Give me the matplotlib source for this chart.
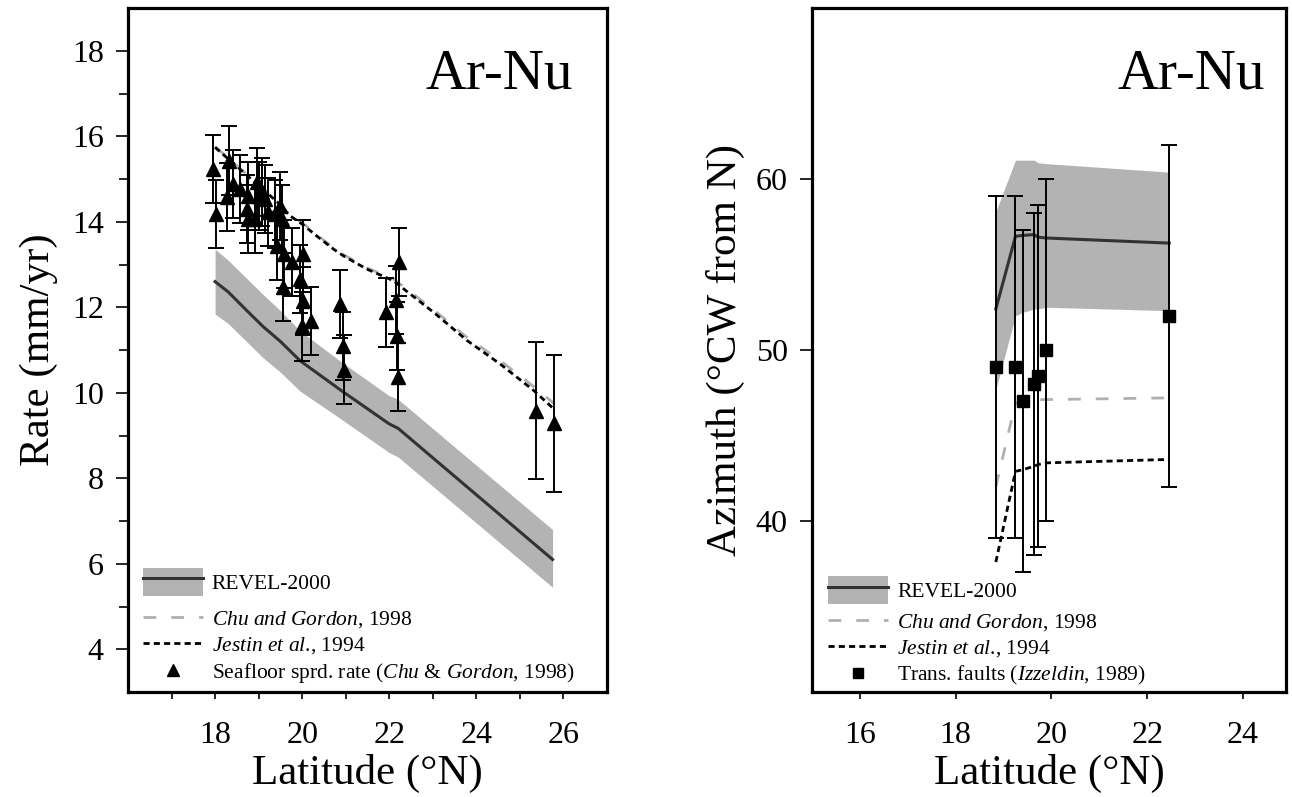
import matplotlib
matplotlib.use('Agg')
import matplotlib.pyplot as plt
from matplotlib.patches import Patch
from matplotlib.lines import Line2D
from matplotlib.legend_handler import HandlerTuple

plt.rcParams['font.family'] = ['Liberation Serif', 'DejaVu Serif']
plt.rcParams['mathtext.fontset'] = 'custom'
plt.rcParams['mathtext.rm'] = 'Liberation Serif'
plt.rcParams['mathtext.it'] = 'Liberation Serif:italic'

# ---------------- Left panel data (rate) ----------------
revel_lat = [18.0, 18.3, 18.7, 19.1, 19.5, 19.95, 20.9, 22.0, 22.2, 25.75]
revel_rate = [12.6, 12.36, 11.95, 11.55, 11.2, 10.75, 10.05, 9.27, 9.17, 6.1]
revel_rate_hi = [13.36, 13.1, 12.7, 12.3, 11.92, 11.45, 10.72, 9.93, 9.85, 6.8]
revel_rate_lo = [11.84, 11.62, 11.22, 10.82, 10.48, 10.04, 9.38, 8.6, 8.5, 5.45]

model_lat = [18.0, 19.42, 19.72, 20.02, 20.33, 20.72, 20.95, 21.49, 22.1, 22.33,
             23.02, 23.79, 24.55, 25.32, 25.78]
jestin_rate = [15.74, 14.47, 14.14, 13.93, 13.67, 13.36, 13.2, 12.89, 12.62, 12.43,
               11.88, 11.22, 10.67, 10.05, 9.62]
chu_rate = [15.76, 14.49, 14.17, 13.96, 13.7, 13.39, 13.23, 12.92, 12.66, 12.48,
            11.94, 11.29, 10.75, 10.14, 9.75]

sf_lat = [17.95, 18.02, 18.32, 18.27, 18.42, 18.57, 18.76, 18.73, 18.76, 18.96,
          19.00, 18.92, 19.07, 19.15, 19.22, 19.38, 19.50, 19.53, 19.42, 19.59,
          19.76, 20.01, 19.95, 19.57, 20.01, 19.99, 20.20, 20.87, 20.93, 20.96,
          21.93, 22.22, 22.15, 22.17, 22.19, 25.36, 25.78]
sf_rate = [15.24, 14.18, 15.43, 14.58, 14.88, 14.77, 14.60, 14.30, 14.07, 14.93,
           14.60, 14.07, 14.70, 14.53, 14.23, 14.18, 14.37, 14.07, 13.43, 13.25,
           13.06, 13.25, 12.66, 12.47, 12.14, 11.55, 11.68, 12.07, 11.10, 10.54,
           11.88, 13.06, 12.17, 11.33, 10.37, 9.58, 9.29]
sf_err = [0.8] * 35 + [1.6, 1.6]

# ---------------- Right panel data (azimuth) ----------------
az_lat = [18.84, 19.25, 19.40, 19.64, 19.72, 19.89, 22.46]
revel_az = [52.4, 56.65, 56.7, 56.75, 56.6, 56.55, 56.25]
revel_az_hi = [58.1, 61.1, 61.1, 61.1, 60.95, 60.9, 60.4]
revel_az_lo = [47.7, 52.0, 52.2, 52.4, 52.4, 52.5, 52.3]
chu_az = [42.0, 46.9, 47.0, 47.1, 47.1, 47.1, 47.2]
jestin_az = [37.6, 42.9, 43.0, 43.2, 43.3, 43.4, 43.6]

tf_lat = [18.84, 19.24, 19.40, 19.64, 19.72, 19.89, 22.46]
tf_az = [49.0, 49.0, 47.0, 48.0, 48.5, 50.0, 52.0]
tf_err = [10, 10, 10, 10, 10, 10, 10]

# ---------------- styles ----------------
BAND = '#b3b3b3'
REVEL_C = '#333333'
CHU_C = '#b0b0b0'
chu_ls = (0, (4.6, 5.4))
jes_ls = (0, (2.2, 1.5))
LEG_FS = 15.5

fig = plt.figure(figsize=(12.92, 7.97), dpi=100)
ax1 = fig.add_axes([128 / 1292, 105 / 797, 479 / 1292, 684 / 797])
ax2 = fig.add_axes([812 / 1292, 105 / 797, 474 / 1292, 684 / 797])


def style_axes(ax):
    for s in ax.spines.values():
        s.set_linewidth(2.3)
    ax.tick_params(which='both', direction='out', top=False, right=False,
                   labelsize=23, width=1.2)
    ax.tick_params(axis='x', which='both', length=5, pad=16)
    ax.tick_params(axis='y', which='major', length=8.5, pad=9)
    ax.tick_params(axis='y', which='minor', length=6.5)


def add_legends(ax, last_handle, last_label, y1, y2, x0):
    h_revel = (Patch(facecolor=BAND, edgecolor='none'),
               Line2D([], [], color=REVEL_C, lw=2.2))
    leg1 = ax.legend([h_revel], ['REVEL-2000'], loc='center left',
                     bbox_to_anchor=(x0, y1), frameon=False, fontsize=LEG_FS,
                     handlelength=2.8, handleheight=1.65, handletextpad=0.4,
                     borderpad=0, borderaxespad=0,
                     handler_map={tuple: HandlerTuple(ndivide=1, pad=0)})
    ax.add_artist(leg1)
    hs = [Line2D([], [], color=CHU_C, lw=2, ls=chu_ls),
          Line2D([], [], color='k', lw=2, ls=jes_ls),
          last_handle]
    labels = [r'$\mathit{Chu\ and\ Gordon}$, 1998',
              r'$\mathit{Jestin\ et\ al}$., 1994',
              last_label]
    ax.legend(hs, labels, loc='center left', bbox_to_anchor=(x0, y2),
              frameon=False, fontsize=LEG_FS, handlelength=2.8,
              handleheight=0.8, handletextpad=0.4, labelspacing=0.22,
              borderpad=0, borderaxespad=0, numpoints=1)


# ---------------- Left panel ----------------
ax1.fill_between(revel_lat, revel_rate_lo, revel_rate_hi, color=BAND,
                 lw=0, zorder=1)
ax1.plot(revel_lat, revel_rate, color=REVEL_C, lw=2.2, zorder=2)
ax1.plot(model_lat, chu_rate, color=CHU_C, lw=2, ls=chu_ls, zorder=2)
ax1.plot(model_lat, jestin_rate, color='k', lw=2, ls=jes_ls, zorder=3)
ax1.errorbar(sf_lat, sf_rate, yerr=sf_err, fmt='^', color='k', ms=10,
             capsize=6, elinewidth=1.4, capthick=1.4, zorder=4)

ax1.set_xlim(16, 27)
ax1.set_ylim(3, 19)
ax1.set_xticks([18, 20, 22, 24, 26])
ax1.set_xticks([17, 19, 21, 23, 25], minor=True)
ax1.set_yticks([4, 6, 8, 10, 12, 14, 16, 18])
ax1.set_yticks([5, 7, 9, 11, 13, 15, 17], minor=True)
style_axes(ax1)
ax1.set_xlabel('Latitude (°N)', fontsize=31, labelpad=3)
ax1.set_ylabel('Rate (mm/yr)', fontsize=31, labelpad=10)
ax1.text(0.929, 0.883, 'Ar-Nu', transform=ax1.transAxes, fontsize=41,
         ha='right', va='baseline')
add_legends(ax1, Line2D([], [], color='k', marker='^', ls='none', ms=8),
            r'Seafloor sprd. rate ($\mathit{Chu}$ & $\mathit{Gordon}$, 1998)',
            0.1608, 0.066, 0.031)

# ---------------- Right panel ----------------
ax2.fill_between(az_lat, revel_az_lo, revel_az_hi, color=BAND, lw=0, zorder=1)
ax2.plot(az_lat, revel_az, color=REVEL_C, lw=2.2, zorder=2)
ax2.plot(az_lat, chu_az, color=CHU_C, lw=2, ls=chu_ls, zorder=2)
ax2.plot(az_lat, jestin_az, color='k', lw=2, ls=jes_ls, zorder=3)
ax2.errorbar(tf_lat, tf_az, yerr=tf_err, fmt='s', color='k', ms=8,
             capsize=6, elinewidth=1.4, capthick=1.4, zorder=4)

ax2.set_xlim(15, 24.9)
ax2.set_ylim(30, 70)
ax2.set_xticks([16, 18, 20, 22, 24])
ax2.set_yticks([40, 50, 60])
style_axes(ax2)
ax2.set_xlabel('Latitude (°N)', fontsize=31, labelpad=3)
ax2.set_ylabel('Azimuth (°CW from N)', fontsize=31, labelpad=8)
ax2.text(0.956, 0.883, 'Ar-Nu', transform=ax2.transAxes, fontsize=41,
         ha='right', va='baseline')
add_legends(ax2, Line2D([], [], color='k', marker='s', ls='none', ms=7),
            r'Trans. faults ($\mathit{Izzeldin}$, 1989)',
            0.149, 0.062, 0.034)

fig.savefig('out.png', dpi=100)
